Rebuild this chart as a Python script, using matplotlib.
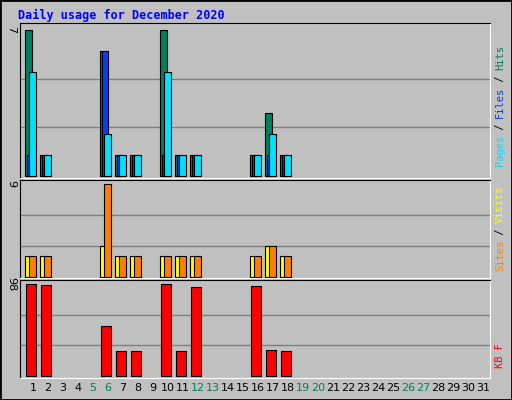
import numpy as np
import matplotlib.pyplot as plt

days = np.arange(1, 32)
active_days = [1, 2, 6, 7, 8, 10, 11, 12, 16, 17, 18]
hits_v = [7, 1, 6, 1, 1, 7, 1, 1, 1, 3, 1]
files_v = [1, 1, 6, 1, 1, 1, 1, 1, 1, 1, 1]
pages_v = [5, 1, 2, 1, 1, 5, 1, 1, 1, 2, 1]
visits_v = [2, 2, 3, 2, 2, 2, 2, 2, 2, 3, 2]
sites_v = [2, 2, 9, 2, 2, 2, 2, 2, 2, 3, 2]
kb_v = [98, 97, 53, 27, 27, 98, 27, 95, 96, 28, 27]
weekend = [5, 6, 12, 13, 19, 20, 26, 27]

act = np.array(active_days)

W, H = 512, 400
fig = plt.figure(figsize=(W / 100, H / 100), dpi=100, facecolor='#C0C0C0')
BG = '#C0C0C0'
fig.patches.append(plt.Rectangle((0, 0), 1, 1, transform=fig.transFigure,
                                 fill=False, edgecolor='black', linewidth=2))
fig.text(18 / W, 1 - 15 / H, 'Daily usage for December 2020', color='#0000FF',
         fontsize=8.5, fontweight='bold', family='DejaVu Sans Mono', va='center')

x0, x1 = 20, 490
xlim = (0.13, 31.47)
upx = (xlim[1] - xlim[0]) / (x1 - x0)  # data units per pixel


def panel(top, bottom, base, maxpx, maxval, series, label_parts, label_bottom):
    ax = fig.add_axes([x0 / W, 1 - bottom / H, (x1 - x0) / W, (bottom - top) / H])
    ax.set_facecolor(BG)
    scale = (base - maxpx) / maxval
    ax.set_ylim(-(bottom - base) / scale, maxval + (maxpx - top) / scale)
    ax.set_xlim(*xlim)
    for g in (maxval / 3, 2 * maxval / 3):
        ax.axhline(g, color='#808080', linewidth=1, zorder=0)
    for vals, color, off, width in series:
        ax.bar(act + off * upx, vals, width=width * upx, align='edge', color=color,
               edgecolor='black', linewidth=0.8, zorder=2)
    ax.set_xticks([]); ax.set_yticks([])
    for s in ax.spines.values():
        s.set_color('black')
    ax.spines['bottom'].set_color('white')
    ax.spines['right'].set_color('white')
    ax.text(-9 * upx + xlim[0], maxval, str(maxval), rotation=270, ha='center', va='center',
            fontsize=8, clip_on=False)
    # right label, reading bottom to top
    yy = (base - label_bottom) / scale
    for txt, col in label_parts:
        ax.text(xlim[1] + 10 * upx, yy, txt, rotation=90, ha='center', va='bottom',
                fontsize=7.5, color=col, family='DejaVu Sans Mono', clip_on=False)
        yy += len(txt) * 6.0 / scale
    return ax


panel(23, 178, 176, 30, 7,
      [(hits_v, '#00805C', -8, 7), (files_v, '#0040FF', -6, 6), (pages_v, '#00E0FF', -4, 7)],
      [('Pages', '#00E0FF'), (' / ', 'black'), ('Files', '#0040FF'), (' / ', 'black'), ('Hits', '#00805C')],
      166)
panel(180, 278, 277, 184, 9,
      [(visits_v, '#FFFF00', -8, 6), (sites_v, '#FF8000', -4, 7)],
      [('Sites', '#FF8000'), (' / ', 'black'), ('Visits', '#FFFF00')], 271)
ax3 = panel(280, 378, 376, 284, 98, [(kb_v, '#FF0000', -7, 10)], [('KB F', '#FF0000')], 368)

for d in days:
    col = '#00805C' if d in weekend else 'black'
    ax3.text(d, ax3.get_ylim()[0] - 10 / ((376 - 284) / 98), str(d), ha='center', va='center',
             fontsize=8, color=col, clip_on=False)

fig.savefig('out.png', dpi=100, facecolor=fig.get_facecolor())
